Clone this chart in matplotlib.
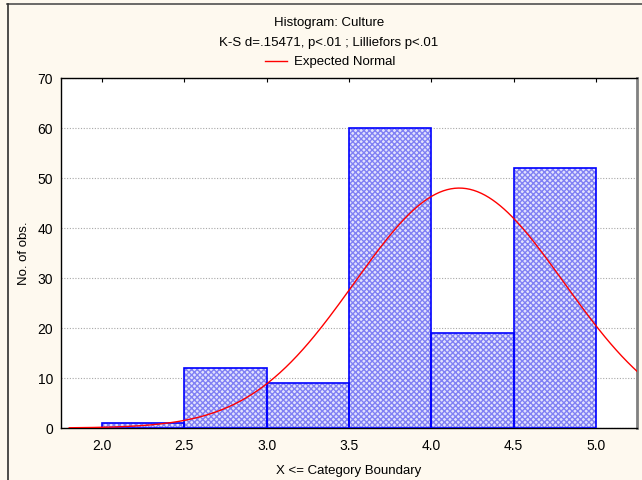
import numpy as np
import matplotlib
matplotlib.use('Agg')
import matplotlib.pyplot as plt
from matplotlib.lines import Line2D

plt.rcParams['font.family'] = ['Liberation Sans', 'DejaVu Sans']
plt.rcParams['hatch.linewidth'] = 1.0

# ---- data ----
bin_left = [2.0, 2.5, 3.0, 3.5, 4.0, 4.5]
bin_width = 0.5
counts = [1, 12, 9, 60, 19, 52]
x_ticks = [2.0, 2.5, 3.0, 3.5, 4.0, 4.5, 5.0]
y_ticks = [0, 10, 20, 30, 40, 50, 60, 70]

# expected normal (fitted parameters)
norm_mean = 4.17
norm_sd = 0.636
norm_n = sum(counts)
curve_start, curve_end = 1.8, 5.25

BG = '#fef9ef'

fig = plt.figure(figsize=(6.42, 4.81), dpi=100, facecolor=BG)
ax = fig.add_axes([61/642, 1 - 429/481, (637 - 61)/642, (429 - 79)/481])
ax.set_facecolor('white')

# bars: hatched fill, then solid outline
ax.bar(bin_left, counts, width=bin_width, align='edge', color='#e2e2fd',
       edgecolor='#8080f4', hatch='xxxxxx', linewidth=0, zorder=2)
ax.bar(bin_left, counts, width=bin_width, align='edge', fill=False,
       edgecolor='#0000ff', linewidth=1.2, zorder=3)

xs = np.linspace(curve_start, curve_end, 300)
ys = norm_n * bin_width / (norm_sd * np.sqrt(2 * np.pi)) * np.exp(-0.5 * ((xs - norm_mean) / norm_sd) ** 2)
ax.plot(xs, ys, color='#ff0000', lw=1.0, zorder=4)

ax.set_xlim(1.75, 5.25)
ax.set_ylim(0, 70)
ax.set_xticks(x_ticks)
ax.set_xticklabels([f'{v:.1f}' for v in x_ticks])
ax.set_yticks(y_ticks)
ax.yaxis.grid(True, linestyle=(0, (1, 1.5)), color='#a8a8a8', linewidth=0.8, zorder=1)
ax.tick_params(axis='x', which='both', direction='in', top=True, bottom=False,
               length=3, width=0.8, labelsize=10, pad=7, colors='black')
ax.tick_params(axis='y', length=0, labelsize=10, pad=5.8)

for side in ['left', 'bottom', 'top']:
    ax.spines[side].set_color('black')
    ax.spines[side].set_linewidth(1.0)
ax.spines['right'].set_color('#808080')
ax.spines['right'].set_linewidth(2.0)

fig.text(349/642, 1 - 471/481, 'X <= Category Boundary', ha='center', va='center', fontsize=9.5)
fig.text(24/642, 1 - 253/481, 'No. of obs.', ha='center', va='center', rotation=90, fontsize=9.5)

cx = 329 / 642
fig.text(cx, 1 - 23/481, 'Histogram: Culture', ha='center', va='center', fontsize=9.5)
fig.text(cx, 1 - 43/481, 'K-S d=.15471, p<.01 ; Lilliefors p<.01', ha='center', va='center', fontsize=9.5)
fig.add_artist(Line2D([265/642, 287/642], [1 - 62/481, 1 - 62/481], color='#ff0000', lw=1.0))
fig.text(294/642, 1 - 62/481, 'Expected Normal', ha='left', va='center', fontsize=9.5)

# screenshot border (top and left)
fig.add_artist(Line2D([7/642, 1], [1 - 4.5/481, 1 - 4.5/481], color='#505050', lw=1.2))
fig.add_artist(Line2D([7.5/642, 7.5/642], [0, 1 - 4.5/481], color='#303030', lw=1.2))

fig.savefig('out.png', dpi=100, facecolor=BG)
